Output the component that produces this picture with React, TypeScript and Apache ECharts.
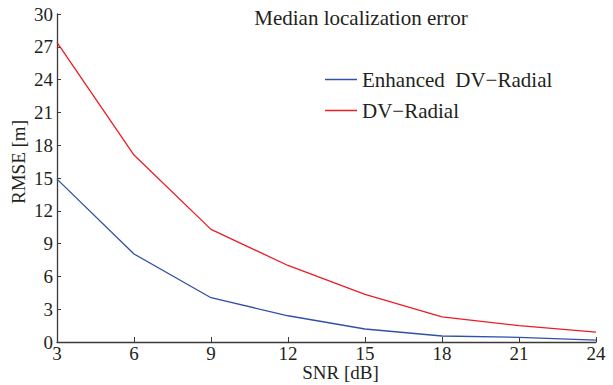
import React, { useEffect, useRef } from "react";
import * as echarts from "echarts";

const snr = [3, 6, 9, 12, 15, 18, 21, 24];
const enhancedDV = [14.9, 8.05, 4.05, 2.4, 1.19, 0.55, 0.43, 0.18];
const dvRadial = [27.4, 17.1, 10.3, 7.0, 4.36, 2.3, 1.5, 0.9];
const seriesNames = ["Enhanced  DV\u2212Radial", "DV\u2212Radial"];
const titleText = "Median localization error";
const xName = "SNR [dB]";
const yName = "RMSE [m]";

const FONT = "'Liberation Serif', 'DejaVu Serif', serif";
const TXT = "#231f20";

export default function App() {
  const ref = useRef<HTMLDivElement>(null);
  useEffect(() => {
    if (!ref.current) return;
    const chart = echarts.init(ref.current, null, { renderer: "svg" });
    chart.setOption({
      animation: false,
      backgroundColor: "#ffffff",
      textStyle: { fontFamily: FONT, color: TXT },
      title: {
        text: titleText,
        left: 356,
        top: 2,
        textAlign: "center",
        textStyle: { fontFamily: FONT, fontSize: 21, fontWeight: "normal", color: TXT },
      },
      legend: {
        orient: "vertical",
        left: 320,
        top: 64,
        padding: 5,
        itemWidth: 32,
        itemHeight: 1.5,
        itemGap: 10,
        icon: "rect",
        textStyle: { fontFamily: FONT, fontSize: 21, color: TXT, lineHeight: 20 },
        data: seriesNames,
      },
      grid: { left: 57, right: 17, top: 14, bottom: 43, containLabel: false, outerBoundsMode: "none" },
      xAxis: {
        type: "value",
        min: 3,
        max: 24,
        interval: 3,
        name: xName,
        nameLocation: "middle",
        nameGap: 22,
        nameMoveOverlap: false,
        nameTextStyle: { fontFamily: FONT, fontSize: 19, color: TXT, lineHeight: 16, padding: [0, 0, 0, 28] },
        axisLine: { lineStyle: { color: "#3a3a3a", width: 1.3 } },
        axisTick: { inside: true, length: 5, lineStyle: { color: "#3a3a3a" } },
        axisLabel: { fontFamily: FONT, fontSize: 19, color: TXT, margin: 3, lineHeight: 16 },
        splitLine: { show: false },
      },
      yAxis: {
        type: "value",
        min: 0,
        max: 30,
        interval: 3,
        name: yName,
        nameLocation: "middle",
        nameGap: 29,
        nameMoveOverlap: false,
        nameTextStyle: { fontFamily: FONT, fontSize: 19, color: TXT, padding: [0, 0, 0, 32] },
        axisLine: { show: true, lineStyle: { color: "#3a3a3a", width: 1.3 } },
        axisTick: { show: true, inside: true, length: 4, lineStyle: { color: "#3a3a3a" } },
        axisLabel: { fontFamily: FONT, fontSize: 19, color: TXT, margin: 4 },
        splitLine: { show: false },
      },
      series: [
        {
          name: seriesNames[0],
          type: "line",
          data: snr.map((x, i) => [x, enhancedDV[i]]),
          showSymbol: false,
          symbol: "none",
          lineStyle: { color: "#3250a8", width: 1.3 },
          itemStyle: { color: "#3250a8" },
        },
        {
          name: seriesNames[1],
          type: "line",
          data: snr.map((x, i) => [x, dvRadial[i]]),
          showSymbol: false,
          symbol: "none",
          lineStyle: { color: "#ec1c24", width: 1.3 },
          itemStyle: { color: "#ec1c24" },
        },
      ],
    });
    return () => chart.dispose();
  }, []);
  return <div ref={ref} style={{ width: 613, height: 385, position: "absolute", left: 0, top: 0 }} />;
}
